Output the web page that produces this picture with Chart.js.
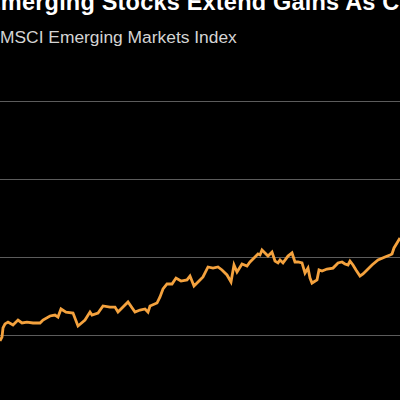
<!DOCTYPE html>
<html>
<head>
<meta charset="utf-8">
<script src="https://cdn.jsdelivr.net/npm/chart.js@4"></script>
<style>
  html, body { margin: 0; padding: 0; background: #000; width: 400px; height: 400px; overflow: hidden; }
  #titulo { position: absolute; left: -15px; top: -9px; font: bold 23.5px/23.5px "Liberation Sans", Arial, sans-serif; color: #fff; white-space: nowrap; letter-spacing: 0.2px; }
  #subtitulo { position: absolute; left: 0px; top: 29px; font: 17.4px/17.4px "Liberation Sans", Arial, sans-serif; color: #d4d4d4; white-space: nowrap; }
  #box { position: absolute; left: 0; top: 96px; width: 400px; height: 320px; }
</style>
</head>
<body>
<div id="titulo">Emerging Stocks Extend Gains As C</div>
<div id="subtitulo">MSCI Emerging Markets Index</div>
<div id="box"><canvas id="grafico"></canvas></div>
<script>
// days since start of the window
const dias = [0, 2, 3, 5, 8, 13, 18, 22, 27, 33, 40, 43, 50, 55, 58, 61, 66, 73, 78, 85,
  90, 92, 98, 103, 110, 115, 118, 128, 135, 140, 145, 148, 150, 157, 160, 163, 167, 172, 176, 181,
  187, 190, 194, 200, 203, 208, 213, 218, 222, 227, 231, 234, 237, 242, 247, 250, 255, 258, 260, 262,
  265, 268, 272, 275, 278, 280, 283, 288, 292, 295, 298, 302, 305, 308, 310, 312, 317, 319, 322, 327,
  333, 338, 342, 345, 348, 350, 353, 356, 360, 363, 367, 372, 378, 385, 390, 392, 394, 397, 400]

// index level
const nivel = [996.2, 998.7, 1004.5, 1007.1, 1008.3, 1006.4, 1009.6, 1007.7, 1008.3, 1007.7,
  1007.7, 1009.6, 1012.2, 1012.8, 1011.5, 1016.7, 1014.7, 1014.1, 1005.8, 1009.6,
  1014.7, 1012.8, 1014.1, 1018.6, 1017.9, 1017.9, 1014.7, 1021.2, 1014.7, 1016.0,
  1016.7, 1014.7, 1018.6, 1020.5, 1024.4, 1029.5, 1032.7, 1032.7, 1036.5, 1034.6,
  1035.3, 1037.8, 1031.4, 1035.3, 1037.2, 1043.6, 1042.9, 1043.6, 1041.7, 1038.5,
  1034.0, 1044.9, 1040.4, 1045.5, 1044.2, 1046.8, 1050.0, 1051.9, 1051.3, 1054.5,
  1052.6, 1050.6, 1053.2, 1047.4, 1046.2, 1048.1, 1046.2, 1050.6, 1052.6, 1046.8,
  1046.8, 1046.2, 1039.7, 1042.9, 1036.5, 1033.3, 1035.3, 1041.7, 1041.0, 1042.3,
  1042.9, 1046.2, 1046.8, 1045.5, 1044.9, 1047.4, 1044.9, 1041.7, 1037.8, 1039.1,
  1041.7, 1044.9, 1048.1, 1050.0, 1051.3, 1051.9, 1055.8, 1059.0, 1062.2]

const ticksY = [950, 1000, 1050, 1100, 1150]

const pontos = dias.map((d, i) => ({ x: d, y: nivel[i] }))

const ctx = document.getElementById('grafico')

new Chart(ctx, {
    type: 'line',
    data: {
        datasets: [{
            data: pontos,
            borderColor: '#f4a23e',
            borderWidth: 2.8,
            pointRadius: 0,
            tension: 0,
            clip: false
        }]
    },
    options: {
        responsive: true,
        maintainAspectRatio: false,
        animation: false,
        layout: { padding: { top: 5, bottom: 3, left: 0, right: 0 } },
        plugins: { legend: { display: false }, tooltip: { enabled: false } },
        scales: {
            x: {
                type: 'linear',
                min: 0,
                max: 400,
                display: false
            },
            y: {
                min: ticksY[0],
                max: ticksY[ticksY.length - 1],
                afterBuildTicks: scale => {
                    scale.ticks = ticksY.map(v => ({ value: v }))
                },
                ticks: { display: false },
                border: { display: false },
                grid: { color: '#5c5c5c', lineWidth: 1, drawTicks: false }
            }
        }
    }
})
</script>
</body>
</html>
